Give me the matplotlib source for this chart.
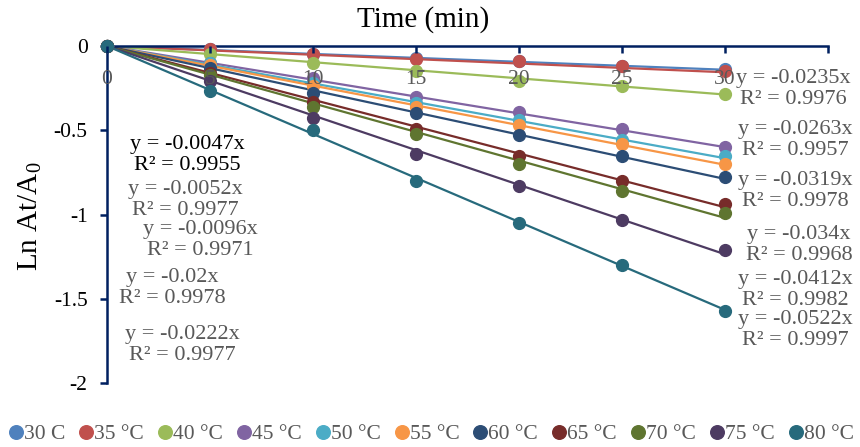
import numpy as np
import matplotlib
matplotlib.use('Agg')
import matplotlib.pyplot as plt

plt.rcParams['font.family'] = ['Liberation Serif', 'DejaVu Serif']
plt.rcParams['mathtext.fontset'] = 'custom'
plt.rcParams['mathtext.rm'] = 'Liberation Serif'
plt.rcParams['mathtext.it'] = 'Liberation Serif'

# Time points (min)
time = [0, 5, 10, 15, 20, 25, 30]

# Ln At/A0 per temperature
labels = ['30 C', '35 °C', '40 °C', '45 °C', '50 °C', '55 °C',
          '60 °C', '65 °C', '70 °C', '75 °C', '80 °C']
series = [
    [0, -0.02, -0.05, -0.07, -0.09, -0.12, -0.135],
    [0, -0.02, -0.045, -0.08, -0.09, -0.12, -0.15],
    [0, -0.05, -0.10, -0.15, -0.21, -0.24, -0.285],
    [0, -0.10, -0.19, -0.30, -0.39, -0.49, -0.60],
    [0, -0.10, -0.22, -0.34, -0.44, -0.56, -0.65],
    [0, -0.11, -0.24, -0.36, -0.47, -0.58, -0.70],
    [0, -0.13, -0.28, -0.40, -0.53, -0.65, -0.78],
    [0, -0.16, -0.33, -0.49, -0.65, -0.80, -0.94],
    [0, -0.17, -0.36, -0.52, -0.70, -0.86, -0.99],
    [0, -0.21, -0.43, -0.64, -0.83, -1.03, -1.21],
    [0, -0.27, -0.50, -0.80, -1.05, -1.30, -1.57],
]
slopes = ['-0.0047', '-0.0052', '-0.0096', '-0.02', '-0.0222', '-0.0235',
          '-0.0263', '-0.0319', '-0.034', '-0.0412', '-0.0522']
r2 = ['0.9955', '0.9977', '0.9971', '0.9978', '0.9977', '0.9976',
      '0.9957', '0.9978', '0.9968', '0.9982', '0.9997']

colors = ['#4F81BD', '#C0504D', '#9BBB59', '#8064A2', '#4BACC6', '#F79646',
          '#2C4D75', '#772C2A', '#5F7530', '#4D3B62', '#276A7C']

# where each trendline equation sits (figure pixels, centre)
label_pos = [(187, 155), (185, 200), (200, 240), (172, 288), (182, 345),
             (793, 89), (795, 140), (795, 191), (799, 245), (795, 290), (795, 330)]

W, H = 860, 447
fig = plt.figure(figsize=(W / 100, H / 100), dpi=100)
ax = fig.add_axes([107 / W, 1 - 383 / H, (828 - 107) / W, (383 - 46) / H])

t = np.array(time, dtype=float)
for i in range(len(series)):
    k = float(slopes[i])
    ax.plot(t, k * t, color=colors[i], lw=1.6, zorder=2)
    ax.plot(time, series[i], 'o', color=colors[i], ms=8.5, zorder=3,
            label=labels[i], clip_on=False)

ax.set_xlim(0, 35)
ax.set_ylim(-2, 0)
ax.set_xticks(range(0, 36, 5))
ax.set_xticklabels(['0', '5', '10', '15', '20', '25', '30', ''])
ax.set_yticks([0, -0.5, -1, -1.5, -2])
ax.set_yticklabels(['0', '-0.5', '-1', '-1.5', '-2'])

navy = '#002060'
for s in ['right', 'bottom']:
    ax.spines[s].set_visible(False)
for s in ['top', 'left']:
    ax.spines[s].set_color(navy)
    ax.spines[s].set_linewidth(1.8)
ax.tick_params(axis='x', top=True, bottom=False, labeltop=True, labelbottom=False,
               direction='in', length=5, width=1.8, color=navy, pad=-31,
               labelsize=15.5, labelcolor='#595959')
ax.tick_params(axis='y', direction='out', length=5, width=1.8, color=navy,
               labelsize=15.5, labelcolor='black', pad=9)
ax.xaxis.set_zorder(5)
ax.patch.set_visible(False)

fig.text(423 / W, 1 - 20 / H, 'Time (min)', ha='center', va='center', fontsize=21)
fig.text(30 / W, 1 - 216 / H, r'Ln At/A$_0$', ha='center', va='center',
         rotation=90, fontsize=21)

for i, (px, py) in enumerate(label_pos):
    c = 'black' if i == 0 else '#595959'
    fig.text(px / W, 1 - py / H, 'y = %sx\nR² = %s' % (slopes[i], r2[i]),
             ha='center', va='center', fontsize=16, color=c, linespacing=1.1)

leg = fig.legend(loc='center', bbox_to_anchor=(0.502, 1 - 434 / H), ncol=11,
                 frameon=False, fontsize=15.5, handlelength=0.55, handletextpad=0.1,
                 columnspacing=0.7, borderpad=0, labelcolor='#595959',
                 markerscale=1.15)

fig.savefig('out.png', dpi=100)
